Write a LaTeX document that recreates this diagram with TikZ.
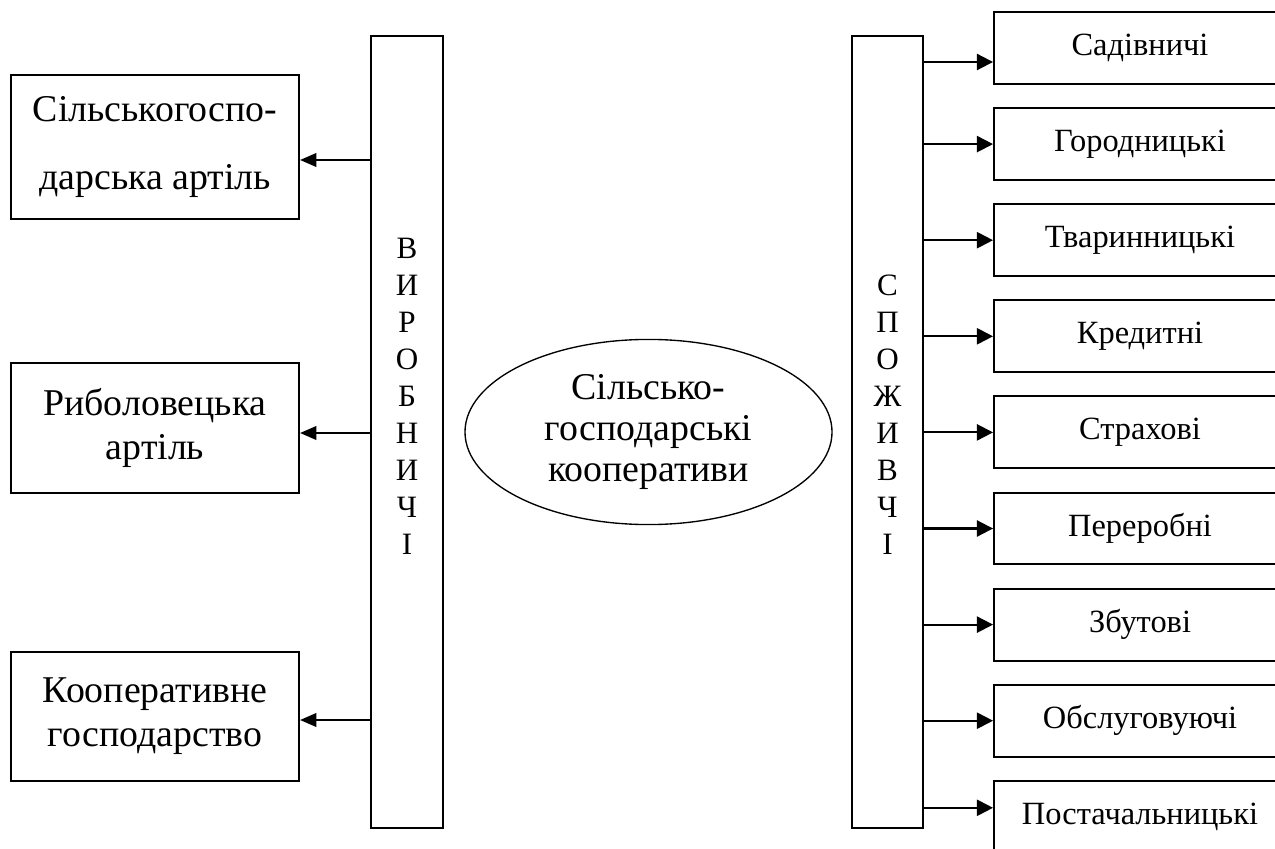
\documentclass[tikz,border=0pt]{standalone}
\usepackage{fontspec}
\setmainfont{Liberation Serif}
\usetikzlibrary{shapes.geometric, arrows.meta, positioning, calc}
\tikzset{
  leftbox/.style={rectangle, draw, line width=0.75pt, minimum width=106.6pt,
    align=center, inner sep=0pt, font=\fontsize{14}{16.3}\selectfont},
  rightbox/.style={rectangle, draw, line width=0.75pt, minimum width=108pt,
    minimum height=26.6pt, inner sep=0pt, font=\fontsize{12}{14}\selectfont},
  bar/.style={rectangle, draw, line width=0.75pt, minimum width=26.5pt,
    minimum height=293pt, inner sep=0pt},
  bartext/.style={align=center, inner sep=0pt, font=\fontsize{11.5}{13.7}\selectfont},
  hub/.style={ellipse, draw, line width=0.5pt, minimum width=135.8pt,
    minimum height=68.5pt, inner sep=0pt, align=center,
    font=\fontsize{14}{15.2}\selectfont},
  arr/.style={-{Triangle[length=6pt, width=5pt]}, line width=0.75pt},
  rarr/.style={-{Triangle[length=6pt, width=6pt]}, line width=0.75pt}
}

\begin{document}
\begin{tikzpicture}[x=0.37pt, y=-0.37pt]
  \clip (0,0) rectangle (1275,849);

  % Vertical bars
  \node[bar] (lb) at (407,432) {};
  \node[bar] (sp) at (887.5,432) {};
  \node[bartext, anchor=south] (lbtxt) at (407,555) {В\\И\\Р\\О\\Б\\Н\\И\\Ч\\І};
  \node[bartext, anchor=south] (sptxt) at (887.5,555) {С\\П\\О\\Ж\\И\\В\\Ч\\І};

  % Central ellipse
  \node[hub] (coop) at (648.5,432) {Сільсько-\\господарські\\кооперативи};

  % Left boxes
  \node[leftbox, minimum height=53.3pt] (l1) at (155,147) {Сільськогоспо-\\[8.5pt]дарська артіль};
  \node[leftbox, minimum height=48.1pt] (l2) at (155,428) {Риболовецька\\артіль};
  \node[leftbox, minimum height=47.7pt] (l3) at (155,716.5) {Кооперативне\\господарство};

  \coordinate (a1) at ($(l1.east)+(0,13)$);
  \coordinate (a2) at ($(l2.east)+(0,5)$);
  \coordinate (a3) at ($(l3.east)+(0,3.5)$);
  \foreach \i in {1,2,3}
    \draw[arr] (a\i -| lb.west) -- (a\i);

  % Right boxes
  \foreach \i/\name/\d in {1/Садівничі/14, 2/Городницькі/0, 3/Тваринницькі/0,
      4/Кредитні/0, 5/Страхові/0, 6/Переробні/0, 7/Збутові/0,
      8/Обслуговуючі/0, 9/Постачальницькі/-9} {
    \node[rightbox] (r\i) at (1140,{48+96.1*(\i-1)}) {\name};
    \coordinate (b\i) at ($(r\i.west)+(0,\d)$);
    \draw[rarr] (b\i -| sp.east) -- (b\i);
  }
\end{tikzpicture}
\end{document}
